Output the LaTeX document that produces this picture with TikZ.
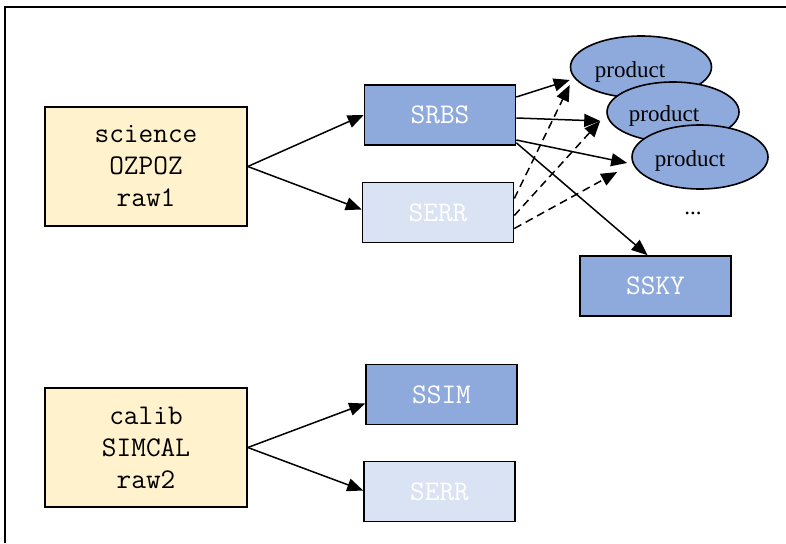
\documentclass[tikz,border=0pt]{standalone}
\usepackage{fontspec}
\setmainfont{Liberation Serif}
\usetikzlibrary{arrows.meta,shapes.geometric}
\definecolor{rawyellow}{HTML}{FFF2CC}
\definecolor{prodblue}{HTML}{8EA9DB}
\definecolor{errblue}{HTML}{DAE3F3}
\tikzset{
  rawbox/.style={draw=black, line width=1.6pt, fill=rawyellow, minimum width=202pt, minimum height=119pt,
    align=center, font=\fontsize{28.5}{32}\selectfont\ttfamily, inner sep=0pt},
  prodbox/.style={draw=black, line width=1.6pt, fill=prodblue, minimum width=151pt, minimum height=60pt,
    text=white, font=\fontsize{28.5}{30}\selectfont\ttfamily, inner sep=0pt},
  errbox/.style={prodbox, fill=errblue},
  prodell/.style={ellipse, draw=black, line width=1.6pt, fill=prodblue, inner sep=0pt,
    font=\fontsize{23}{27}\selectfont},
  arr/.style={line width=1.5pt, -{Triangle[length=16pt,width=13pt]}},
  darr/.style={arr, dash pattern=on 8pt off 5pt},
}
\begin{document}
\begin{tikzpicture}[x=1pt,y=-1pt]
\useasboundingbox (0,0) rectangle (786,543);
\draw[line width=1.5pt] (5,543) -- (5,7) -- (786,7);

\node[rawbox] (sci) at (146,166.5) {science\\OZPOZ\\raw1};
\node[prodbox] (srbs) at (440,115) {SRBS};
\node[errbox] (serr1) at (438,212.5) {SERR};
\node[prodbox] (sky) at (655.5,286) {SSKY};

\node[rawbox] (cal) at (146,447.5) {calib\\SIMCAL\\raw2};
\node[prodbox] (ssim) at (441.5,394.5) {SSIM};
\node[errbox] (serr2) at (439.5,491.5) {SERR};

\node[prodell, minimum width=141pt, minimum height=62pt] (p1) at (641,67) {\rule{0pt}{26pt}product\hspace*{22pt}};
\node[prodell, minimum width=132pt, minimum height=60pt] (p2) at (673,112) {\rule{0pt}{24pt}product\hspace*{18pt}};
\node[prodell, minimum width=136pt, minimum height=64pt] (p3) at (700,157) {\rule{0pt}{24pt}product\hspace*{20pt}};
\node[font=\fontsize{23}{27}\selectfont] (dots) at (693,213) {...};

\draw[arr] (sci.east) -- (srbs.west);
\draw[arr] (sci.east) -- ([yshift=3pt]serr1.west);
\draw[arr] (cal.east) -- ([yshift=-9pt]ssim.west);
\draw[arr] (cal.east) -- ([yshift=1pt]serr2.west);

\draw[arr] ([yshift=18pt]srbs.east) -- ([yshift=-13pt]p1.west);
\draw[arr] ([yshift=-3pt]srbs.east) -- ([xshift=-6pt,yshift=-9pt]p2.west);
\draw[arr] ([yshift=-25pt]srbs.east) -- ([xshift=-4pt,yshift=-6pt]p3.west);
\draw[arr] ([yshift=3pt]srbs.south east) -- ([xshift=-8pt]sky.north);

\draw[darr] ([yshift=14pt]serr1.east) -- ([yshift=-18pt]p1.west);
\draw[darr] ([yshift=-3pt]serr1.east) -- ([xshift=-6pt,yshift=-9pt]p2.west);
\draw[darr] ([yshift=-16pt]serr1.east) -- ([xshift=-14pt,yshift=-15pt]p3.west);
\end{tikzpicture}
\end{document}
